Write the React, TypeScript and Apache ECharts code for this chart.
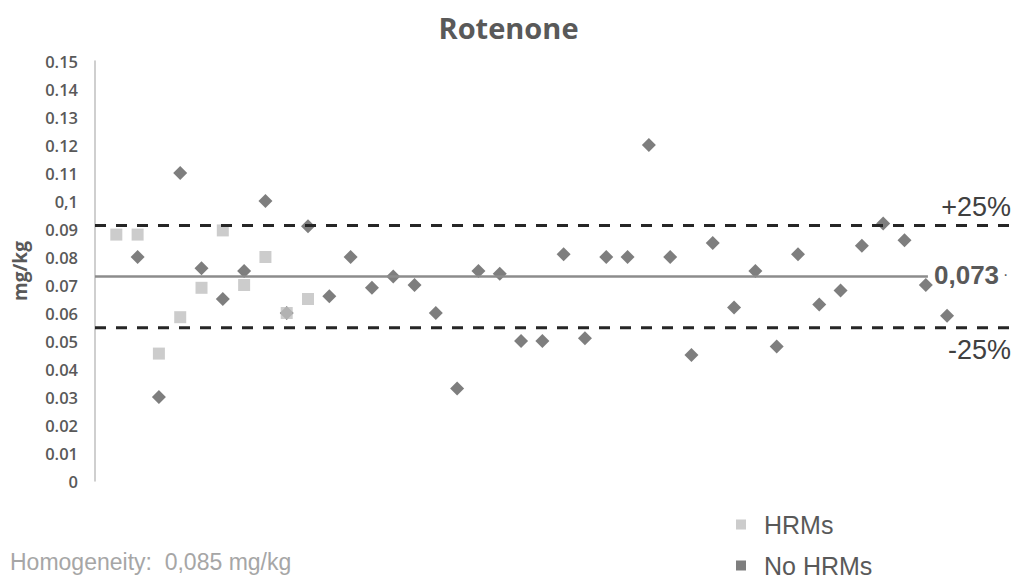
import React, { useEffect, useRef } from "react";
import * as echarts from "echarts";

const title = "Rotenone";
const yTickLabels = ["0", "0.01", "0.02", "0.03", "0.04", "0.05", "0.06", "0.07", "0.08", "0.09", "0,1", "0.11", "0.12", "0.13", "0.14", "0.15"];

// sample positions (x index) and values, mg/kg
const hrmX = [1, 2, 3, 4, 5, 6, 7, 8, 9, 10];
const hrmValues = [0.088, 0.088, 0.0455, 0.0585, 0.069, 0.0895, 0.07, 0.08, 0.06, 0.065];

const noHrmX = [2, 3, 4, 5, 6, 7, 8, 9, 10, 11, 12, 13, 14, 15, 16, 17, 18, 19, 20, 21, 22, 23, 24, 25, 26, 27, 28, 29, 30, 31, 32, 33, 34, 35, 36, 37, 38, 39, 40];
const noHrmValues = [
  0.08, 0.03, 0.11, 0.076, 0.065, 0.075, 0.1, 0.06, 0.091,
  0.066, 0.08, 0.069, 0.073, 0.07, 0.06, 0.033, 0.075, 0.074, 0.05, 0.05,
  0.081, 0.051, 0.08, 0.08, 0.12, 0.08, 0.045, 0.085, 0.062, 0.075,
  0.048, 0.081, 0.063, 0.068, 0.084, 0.092, 0.086, 0.07, 0.059,
];

const meanValue = 0.073;
const upperValue = meanValue * 1.25;
const lowerValue = meanValue * 0.75;
const meanLabel = "0,073";
const homogeneityText = "Homogeneity:  0,085 mg/kg";

const xMin = 0;
const xMax = 43;
const meanLineEnd = 39.1;

export default function App() {
  const ref = useRef<HTMLDivElement>(null);
  useEffect(() => {
    if (!ref.current) return;
    const chart = echarts.init(ref.current, null, { renderer: "svg" });
    const option = {
      animation: false,
      backgroundColor: "#ffffff",
      title: {
        text: title,
        left: "center",
        top: 8,
        textStyle: { fontFamily: "Open Sans", fontWeight: "bold", fontSize: 29, color: "#595959" },
      },
      grid: { left: 95, right: 6, top: 61, height: 420, containLabel: false },
      xAxis: { type: "value", min: xMin, max: xMax, show: false },
      yAxis: {
        type: "value",
        min: 0,
        max: 0.15,
        interval: 0.01,
        name: "mg/kg",
        nameLocation: "middle",
        nameGap: 66,
        nameTextStyle: { fontFamily: "Open Sans", fontWeight: "bold", fontSize: 19, color: "#595959" },
        axisLine: { show: true, lineStyle: { color: "#BFBFBF", width: 1.5 } },
        axisTick: { show: false },
        splitLine: { show: false },
        axisLabel: {
          margin: 17,
          fontFamily: "Open Sans",
          fontWeight: 600,
          fontSize: 16.5,
          color: "#595959",
          formatter: (v: number) => yTickLabels[Math.round(v * 100)] ?? "",
        },
      },
      legend: {
        orient: "vertical",
        left: 736,
        top: 512,
        padding: 0,
        itemWidth: 10,
        itemHeight: 10,
        itemGap: 16,
        data: [
          { name: "HRMs", icon: "rect" },
          { name: "No HRMs", icon: "rect" },
        ],
        textStyle: { fontFamily: "Liberation Sans", fontSize: 25, color: "#595959", padding: [0, 0, 0, 13] },
      },
      graphic: [
        { type: "text", left: 10, top: 550, style: { text: homogeneityText, fontFamily: "Liberation Sans", fontSize: 23, fill: "#A6A6A6" } },
        { type: "text", right: 6, top: 193, style: { text: "+25%", fontFamily: "Liberation Sans", fontSize: 27, fill: "#404040" } },
        { type: "text", right: 6, top: 336, style: { text: "-25%", fontFamily: "Liberation Sans", fontSize: 27, fill: "#404040" } },
        { type: "text", left: 934, top: 262, style: { text: meanLabel, fontFamily: "Liberation Sans", fontWeight: "bold", fontSize: 26, fill: "#595959" } },
        { type: "text", left: 1003, top: 266, style: { text: "·", fontFamily: "Liberation Sans", fontSize: 16, fill: "#595959" } },
      ],
      series: [
        {
          name: "upper",
          type: "line",
          data: [[xMin, upperValue], [xMax, upperValue]],
          symbol: "none",
          silent: true,
          lineStyle: { color: "#262626", width: 3, type: [11, 10] },
        },
        {
          name: "lower",
          type: "line",
          data: [[xMin, lowerValue], [xMax, lowerValue]],
          symbol: "none",
          silent: true,
          lineStyle: { color: "#262626", width: 3, type: [11, 10] },
        },
        {
          name: "mean",
          type: "line",
          data: [[xMin, meanValue], [meanLineEnd, meanValue]],
          symbol: "none",
          silent: true,
          lineStyle: { color: "#8C8C8C", width: 2.5 },
        },
        {
          name: "No HRMs",
          type: "scatter",
          symbol: "diamond",
          symbolSize: 14,
          itemStyle: { color: "#5E5E5E" },
          data: noHrmX.map((x, i) => [x, noHrmValues[i]]),
        },
        {
          name: "HRMs",
          type: "scatter",
          symbol: "rect",
          symbolSize: 12,
          itemStyle: { color: "#BFBFBF" },
          data: hrmX.map((x, i) => [x, hrmValues[i]]),
        },
      ],
    };
    chart.setOption(option);
    return () => chart.dispose();
  }, []);
  return <div ref={ref} style={{ position: "absolute", left: 0, top: 0, width: 1017, height: 579 }} />;
}
